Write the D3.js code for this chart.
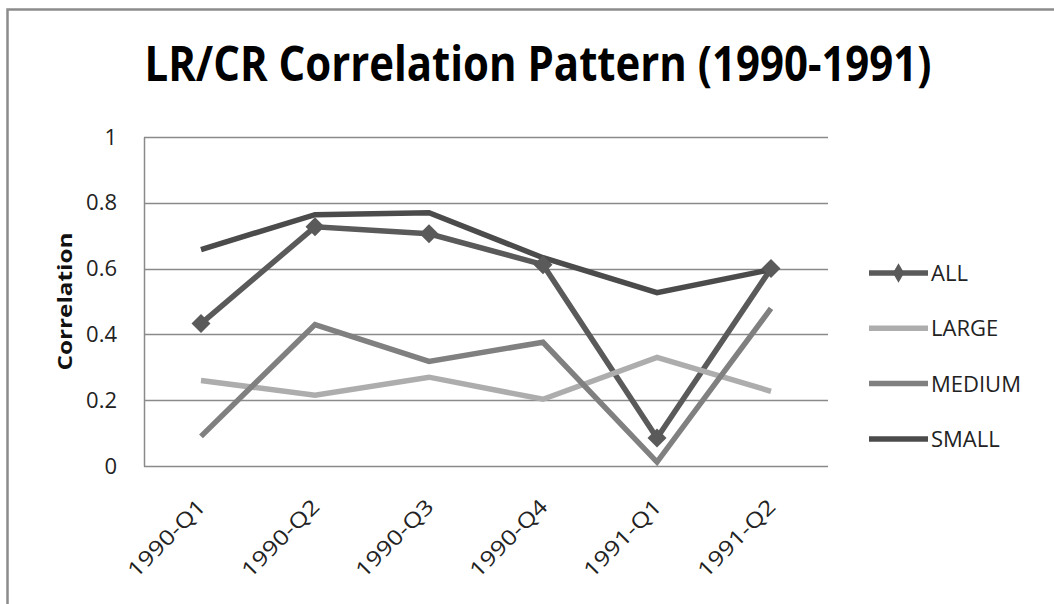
<!DOCTYPE html>
<html>
<head>
<meta charset="utf-8">
<script src="https://cdn.jsdelivr.net/npm/d3@7"></script>
<style>
  body { margin: 0; background: #fff; }
  text { font-family: "Open Sans", "DejaVu Sans", sans-serif; fill: #1a1a1a; }
</style>
</head>
<body>
<script>
const quarters = ["1990-Q1", "1990-Q2", "1990-Q3", "1990-Q4", "1991-Q1", "1991-Q2"];
const allVals    = [0.433, 0.727, 0.706, 0.612, 0.085, 0.600];
const largeVals  = [0.260, 0.215, 0.270, 0.203, 0.330, 0.227];
const mediumVals = [0.090, 0.430, 0.318, 0.376, 0.012, 0.479];
const smallVals  = [0.658, 0.764, 0.770, 0.633, 0.527, 0.597];
const seriesNames = ["ALL", "LARGE", "MEDIUM", "SMALL"];
const yTicks = [0, 0.2, 0.4, 0.6, 0.8, 1];
const yTickLabels = ["0", "0.2", "0.4", "0.6", "0.8", "1"];

const W = 1054, H = 604;
const margin = {top: 137, right: 226, bottom: 138, left: 144},
      width = W - margin.left - margin.right,
      height = H - margin.top - margin.bottom;

const colors = {ALL: "#5a5a5a", LARGE: "#adadad", MEDIUM: "#808080", SMALL: "#4b4b4b"};
const series = [
  {name: "ALL", values: allVals},
  {name: "LARGE", values: largeVals},
  {name: "MEDIUM", values: mediumVals},
  {name: "SMALL", values: smallVals}
];

const svg = d3.select("body").append("svg")
    .attr("width", W)
    .attr("height", H);

// outer frame (only top and left edges show)
svg.append("path")
    .attr("d", "M7.5,604 L7.5,9.5 L1054,9.5")
    .attr("fill", "none")
    .attr("stroke", "#8c8c8c")
    .attr("stroke-width", 2.5);

svg.append("text")
    .attr("x", 538).attr("y", 81)
    .attr("text-anchor", "middle")
    .attr("font-size", 48)
    .attr("font-weight", "bold")
    .attr("textLength", 787)
    .attr("lengthAdjust", "spacingAndGlyphs")
    .style("fill", "#000")
    .text("LR/CR Correlation Pattern (1990-1991)");

const g = svg.append("g").attr("transform", "translate(" + margin.left + "," + margin.top + ")");

const x = d3.scaleBand().domain(quarters).range([0, width]).padding(0);
const y = d3.scaleLinear().domain([0, 1]).range([height, 0]);
const cx = d => x(d) + x.bandwidth() / 2;

// gridlines
g.append("g")
  .selectAll("line")
  .data(yTicks)
  .enter().append("line")
    .attr("x1", 0).attr("x2", width)
    .attr("y1", d => Math.round(y(d)) + 0.5)
    .attr("y2", d => Math.round(y(d)) + 0.5)
    .attr("stroke", "#8a8a8a")
    .attr("stroke-width", 1.5);

// y axis
const yAxis = d3.axisLeft(y)
    .tickValues(yTicks)
    .tickFormat((d, i) => yTickLabels[i])
    .tickSize(0)
    .tickPadding(27);
const yG = g.append("g").call(yAxis);
yG.select(".domain").attr("stroke", "#8a8a8a").attr("stroke-width", 1.5);
yG.selectAll("text")
    .attr("font-size", 22)
    .attr("font-family", null)
    .style("fill", "#222");

// x axis labels, turned 45 degrees
const xAxis = d3.axisBottom(x).tickSize(0).tickPadding(0);
const xG = g.append("g").attr("transform", "translate(0," + height + ")").call(xAxis);
xG.select(".domain").remove();
xG.selectAll("text")
    .attr("font-size", 21)
    .attr("font-family", null)
    .attr("text-anchor", "end")
    .attr("dy", 0)
    .attr("y", 0)
    .attr("transform", "translate(6,42) rotate(-45)")
    .attr("textLength", 100)
    .attr("lengthAdjust", "spacingAndGlyphs")
    .style("fill", "#222");

// y axis title
svg.append("text")
    .attr("transform", "translate(72," + (margin.top + height / 2) + ") rotate(-90)")
    .attr("text-anchor", "middle")
    .attr("font-size", 19)
    .attr("font-weight", "bold")
    .attr("textLength", 138)
    .attr("lengthAdjust", "spacingAndGlyphs")
    .style("fill", "#111")
    .text("Correlation");

// lines
const line = d3.line()
    .x((d, i) => cx(quarters[i]))
    .y(d => y(d));

g.selectAll(".series")
  .data(series)
  .enter().append("path")
    .attr("class", "series")
    .attr("d", d => line(d.values))
    .attr("fill", "none")
    .attr("stroke", d => colors[d.name])
    .attr("stroke-width", 5.5)
    .attr("stroke-linejoin", "miter");

// diamond markers on ALL
const diamond = d3.symbol().type(d3.symbolDiamond2).size(230);
g.selectAll(".mark")
  .data(allVals)
  .enter().append("path")
    .attr("class", "mark")
    .attr("d", diamond)
    .attr("transform", (d, i) => "translate(" + cx(quarters[i]) + "," + y(d) + ")")
    .attr("fill", colors.ALL);

// legend
const legend = svg.append("g").attr("transform", "translate(869,273)");
const item = legend.selectAll(".item")
  .data(seriesNames)
  .enter().append("g")
    .attr("class", "item")
    .attr("transform", (d, i) => "translate(0," + (i * 55.3) + ")");
item.append("line")
    .attr("x1", 0).attr("x2", 59)
    .attr("stroke", d => colors[d])
    .attr("stroke-width", 5.5);
item.filter(d => d === "ALL").append("path")
    .attr("d", d3.symbol().type(d3.symbolDiamond).size(110))
    .attr("transform", "translate(29.5,0)")
    .attr("fill", colors.ALL);
item.append("text")
    .attr("x", 62)
    .attr("dy", "0.36em")
    .attr("font-size", 22)
    .style("fill", "#222")
    .text(d => d);
</script>
</body>
</html>
